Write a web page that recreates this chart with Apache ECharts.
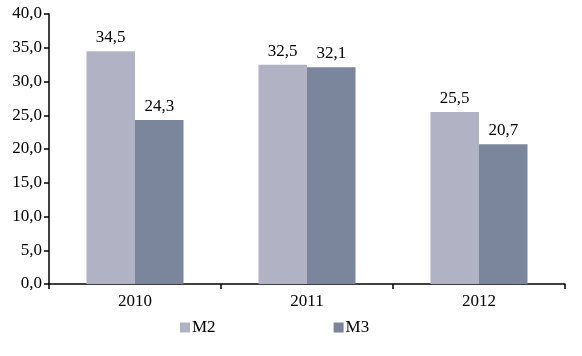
<!DOCTYPE html>
<html><head><meta charset="utf-8">
<script src="https://cdn.jsdelivr.net/npm/echarts@6/dist/echarts.min.js"></script>
<style>html,body{margin:0;padding:0;background:#fff}#c{width:582px;height:356px}</style>
</head><body><div id="c"></div>
<script>
const categories = ['2010', '2011', '2012'];
const m2 = [34.5, 32.5, 25.5];
const m3 = [24.3, 32.1, 20.7];
const yTicks = {min: 0, max: 40, interval: 5};

const font = 'Liberation Serif';
const fmt = v => Number(v).toFixed(1).replace('.', ',');
const chart = echarts.init(document.getElementById('c'));
chart.setOption({
  animation: false,
  grid: {left: 49, right: 17, top: 14, bottom: 72, containLabel: false},
  legend: {
    bottom: 15, left: 175, itemWidth: 10, itemHeight: 10, itemGap: 118,
    icon: 'rect',
    textStyle: {fontFamily: font, fontSize: 17, color: '#000', padding: [0,0,0,-3]},
    data: ['M2', 'M3']
  },
  xAxis: {
    type: 'category', data: categories,
    axisLine: {lineStyle: {color: '#000', width: 1.5}},
    axisTick: {show: true, length: 5, lineStyle: {color: '#000', width: 1.5}},
    axisLabel: {fontFamily: font, fontSize: 17, color: '#000', margin: 9}
  },
  yAxis: {
    type: 'value', min: yTicks.min, max: yTicks.max, interval: yTicks.interval,
    axisLine: {show: true, lineStyle: {color: '#000', width: 1.5}},
    axisTick: {show: true, length: 5, lineStyle: {color: '#000', width: 1.5}},
    splitLine: {show: false},
    axisLabel: {fontFamily: font, fontSize: 17, color: '#000', margin: 7, formatter: v => fmt(v)}
  },
  series: [
    {name: 'M2', type: 'bar', data: m2, barGap: '0%', barCategoryGap: '43.6%',
     itemStyle: {color: '#b1b3c5'},
     label: {show: true, position: 'top', distance: 5, fontFamily: font, fontSize: 17, color: '#000', formatter: p => fmt(p.value)}},
    {name: 'M3', type: 'bar', data: m3, barGap: '0%', barCategoryGap: '43.6%',
     itemStyle: {color: '#7b869c'},
     label: {show: true, position: 'top', distance: 5, fontFamily: font, fontSize: 17, color: '#000', formatter: p => fmt(p.value)}}
  ]
});
</script></body></html>
